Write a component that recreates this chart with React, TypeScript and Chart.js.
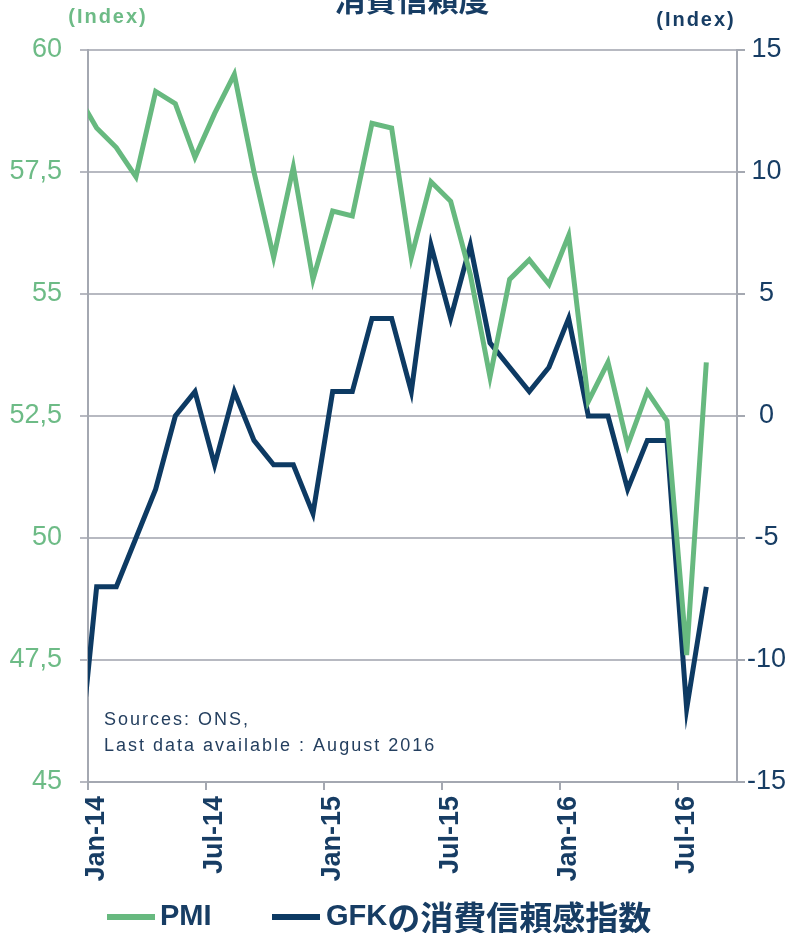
import React, { useEffect, useRef } from "react";
import { Chart, registerables } from "chart.js";

Chart.register(...registerables);

// Months from Dec-13 to Aug-16 (Dec-13 is only partly visible, clipped at the axis)
const MONTHS = [
  "Dec-13",
  "Jan-14", "Feb-14", "Mar-14", "Apr-14", "May-14", "Jun-14", "Jul-14", "Aug-14", "Sep-14", "Oct-14", "Nov-14", "Dec-14",
  "Jan-15", "Feb-15", "Mar-15", "Apr-15", "May-15", "Jun-15", "Jul-15", "Aug-15", "Sep-15", "Oct-15", "Nov-15", "Dec-15",
  "Jan-16", "Feb-16", "Mar-16", "Apr-16", "May-16", "Jun-16", "Jul-16", "Aug-16",
];

const PMI = [
  59.1,
  58.4, 58.0, 57.4, 59.15, 58.9, 57.8, 58.7, 59.5, 57.5, 55.75, 57.6, 55.3,
  56.7, 56.6, 58.5, 58.4, 55.75, 57.3, 56.9, 55.4, 53.3, 55.3, 55.7, 55.2,
  56.2, 52.8, 53.6, 51.9, 53.0, 52.4, 47.6, 53.6,
];

const GFK = [
  -15,
  -7, -7, -5, -3, 0, 1, -2, 1, -1, -2, -2, -4,
  1, 1, 4, 4, 1, 7, 4, 7, 3, 2, 1, 2,
  4, 0, 0, -3, -1, -1, -12, -7,
];

const X_TICK_MONTHS = [0, 6, 12, 18, 24, 30]; // months after Jan-14
const X_TICK_LABELS = ["Jan-14", "Jul-14", "Jan-15", "Jul-15", "Jan-16", "Jul-16"];

const TITLE = "消費信頼度";
const LEGEND_PMI = "PMI";
const LEGEND_GFK_LATIN = "GFK";
const LEGEND_GFK_CJK = "の消費信頼感指数";
const SOURCE_LINES = ["Sources: ONS,", "Last data available : August 2016"];

const GREEN = "#67b97f";
const GREEN_TEXT = "#6dbb86";
const NAVY = "#0d3a63";
const NAVY_TEXT = "#173d64";
const GRID = "#b7b9c1";
const AXIS = "#a4a8b1";

const DATA_OFFSET = 0.44; // data sit mid-month relative to month-start ticks

const extrasPlugin = {
  id: "extras",
  afterDraw(chart: any) {
    const ctx = chart.ctx;
    const area = chart.chartArea;
    ctx.save();
    // title (partly cut off at the top)
    ctx.fillStyle = NAVY_TEXT;
    ctx.font = 'bold 31px "Noto Sans CJK JP", sans-serif';
    ctx.textAlign = "center";
    ctx.textBaseline = "middle";
    ctx.fillText(TITLE, 412, -1);

    // axis unit labels
    ctx.font = 'bold 20px "Liberation Sans", sans-serif';
    (ctx as any).letterSpacing = "2px";
    ctx.fillStyle = GREEN_TEXT;
    ctx.fillText("(Index)", 108, 17);
    ctx.fillStyle = NAVY_TEXT;
    ctx.fillText("(Index)", 696, 20);

    // sources
    ctx.font = '18px "Liberation Sans", sans-serif';
    (ctx as any).letterSpacing = "2px";
    ctx.fillStyle = "#243f5f";
    ctx.textAlign = "left";
    ctx.fillText(SOURCE_LINES[0], area.left + 16, 720);
    ctx.fillText(SOURCE_LINES[1], area.left + 16, 746);
    (ctx as any).letterSpacing = "0px";

    // legend
    const ly = 917;
    ctx.fillStyle = GREEN;
    ctx.fillRect(107, ly - 3, 48, 6);
    ctx.fillStyle = NAVY;
    ctx.fillRect(272, ly - 3, 48, 6);
    ctx.fillStyle = NAVY_TEXT;
    ctx.font = 'bold 29px "Liberation Sans", sans-serif';
    ctx.fillText(LEGEND_PMI, 160, ly);
    ctx.fillText(LEGEND_GFK_LATIN, 326, ly);
    const w = ctx.measureText(LEGEND_GFK_LATIN).width;
    ctx.font = 'bold 33px "Noto Sans CJK JP", sans-serif';
    ctx.fillText(LEGEND_GFK_CJK, 326 + w, ly);
    ctx.restore();
  },
};

export default function App() {
  const ref = useRef<HTMLCanvasElement | null>(null);

  useEffect(() => {
    if (!ref.current) return;
    const pmiData = PMI.map((v, i) => ({ x: i - 1 + DATA_OFFSET, y: v }));
    const gfkData = GFK.map((v, i) => ({ x: i - 1 + DATA_OFFSET, y: v }));

    const chart = new Chart(ref.current, {
      type: "line",
      data: {
        labels: MONTHS,
        datasets: [
          {
            label: LEGEND_PMI,
            data: pmiData,
            borderColor: GREEN,
            backgroundColor: GREEN,
            borderWidth: 5,
            pointRadius: 0,
            tension: 0,
            yAxisID: "y",
            clip: 0,
          } as any,
          {
            label: LEGEND_GFK_LATIN + LEGEND_GFK_CJK,
            data: gfkData,
            borderColor: NAVY,
            backgroundColor: NAVY,
            borderWidth: 5,
            pointRadius: 0,
            tension: 0,
            yAxisID: "y1",
            clip: 0,
          } as any,
        ],
      },
      options: {
        responsive: false,
        animation: false,
        layout: { padding: { top: 50, left: 0, right: 0, bottom: 0 } },
        plugins: {
          legend: { display: false },
          title: { display: false },
          tooltip: { enabled: false },
        },
        scales: {
          x: {
            type: "linear",
            position: "bottom",
            min: 0,
            max: 33,
            afterBuildTicks: (scale: any) => {
              scale.ticks = X_TICK_MONTHS.map((v) => ({ value: v }));
            },
            afterFit: (scale: any) => {
              scale.height = 151;
            },
            grid: {
              drawOnChartArea: false,
              drawTicks: true,
              tickLength: 8,
              color: AXIS,
              lineWidth: 2,
            },
            border: { display: true, color: AXIS, width: 2 },
            ticks: {
              autoSkip: false,
              maxRotation: 90,
              minRotation: 90,
              padding: 6,
              labelOffset: 9,
              color: NAVY_TEXT,
              font: { family: '"Liberation Sans", sans-serif', size: 27, weight: "bold" },
              callback: (_v: any, i: number) => X_TICK_LABELS[i],
            },
          },
          y: {
            type: "linear",
            position: "left",
            min: 45,
            max: 60,
            afterFit: (scale: any) => {
              scale.width = 88;
            },
            grid: {
              color: GRID,
              lineWidth: 2,
              drawTicks: true,
              tickLength: 8,
            },
            border: { display: true, color: AXIS, width: 2 },
            ticks: {
              stepSize: 2.5,
              padding: 18,
              color: GREEN_TEXT,
              font: { family: '"Liberation Sans", sans-serif', size: 27 },
              callback: (v: any) => String(v).replace(".", ","),
            },
          },
          y1: {
            type: "linear",
            position: "right",
            min: -15,
            max: 15,
            afterFit: (scale: any) => {
              scale.width = 63;
            },
            grid: {
              drawOnChartArea: false,
              color: AXIS,
              lineWidth: 2,
              drawTicks: true,
              tickLength: 8,
            },
            border: { display: true, color: AXIS, width: 2 },
            ticks: {
              stepSize: 5,
              padding: 2,
              crossAlign: "center",
              color: NAVY_TEXT,
              font: { family: '"Liberation Sans", sans-serif', size: 27 },
            },
          },
        },
      } as any,
      plugins: [extrasPlugin],
    });
    return () => chart.destroy();
  }, []);

  return (
    <div style={{ position: "absolute", left: 0, top: 0, width: 800, height: 933, background: "#ffffff" }}>
      <canvas ref={ref} width={800} height={933} style={{ display: "block" }} />
    </div>
  );
}
